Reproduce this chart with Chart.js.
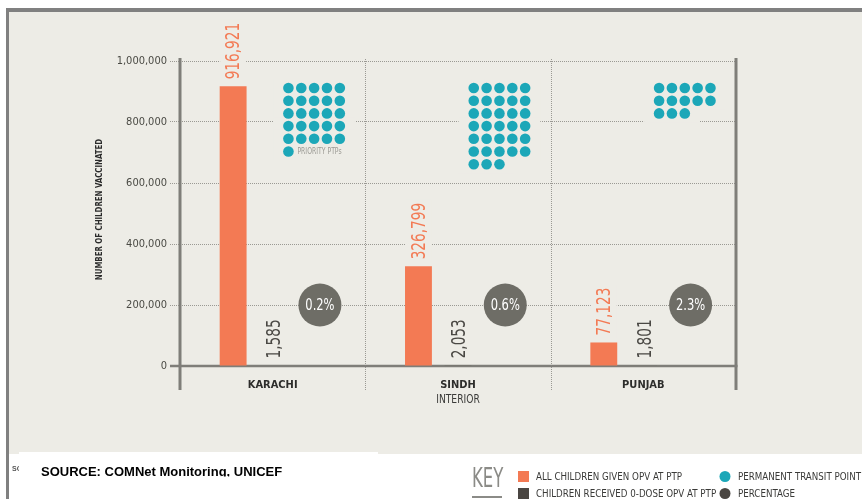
<!DOCTYPE html>
<html><head><meta charset="utf-8">
<script src="https://cdn.jsdelivr.net/npm/chart.js@4.4.0/dist/chart.umd.min.js"></script>
<style>html,body{margin:0;padding:0;background:#fff}#wrap{width:862px;height:499px;position:relative}</style>
</head><body><div id="wrap"><canvas id="c" width="862" height="499"></canvas></div>
<script>
// ---- data ----
const categories = ['KARACHI', 'SINDH', 'PUNJAB'];
const categorySub = ['', 'INTERIOR', ''];
const allChildren = [916921, 326799, 77123];
const zeroDose = [1585, 2053, 1801];
const percentages = ['0.2%', '0.6%', '2.3%'];
const ptpCounts = [26, 33, 13];
const yTicks = [0, 200000, 400000, 600000, 800000, 1000000];
const seriesNames = ['ALL CHILDREN GIVEN OPV AT PTP', 'CHILDREN RECEIVED 0-DOSE OPV AT PTP', 'PERMANENT TRANSIT POINT', 'PERCENTAGE'];

// ---- style ----
const BG = '#EDECE6';
const ORANGE = '#F37A54';
const DARK = '#4A4642';
const TEAL = '#1CA7B8';
const CIRCLE = '#6E6D66';
const GRID = '#9a9993';
const AXIS = '#7f7e79';
const NARROW = '"Liberation Sans Narrow","DejaVu Sans Condensed","Roboto Condensed",sans-serif';
const fmt = v => Number(v).toLocaleString('en-US');

// draw text, optionally rotated, squeezed along its own direction by sx
function txt(ctx, s, x, y, o) {
  ctx.save();
  ctx.translate(x, y);
  if (o.rot) ctx.rotate(o.rot);
  ctx.scale(o.sx || 1, 1);
  ctx.font = o.font; ctx.fillStyle = o.color;
  ctx.textAlign = o.align || 'left'; ctx.textBaseline = o.base || 'middle';
  ctx.fillText(s, 0, o.dy || 0);
  ctx.restore();
}

const VAL_FONT = '20px ' + NARROW, VAL_SX = 0.76;

const decor = {
  id: 'decor',
  beforeDraw(chart) {
    const ctx = chart.ctx;
    ctx.save();
    ctx.fillStyle = '#fff'; ctx.fillRect(0, 0, 862, 499);
    ctx.fillStyle = BG; ctx.fillRect(9, 11, 853, 443);
    ctx.fillStyle = '#808080';
    ctx.fillRect(6, 8, 856, 4);
    ctx.fillRect(6, 8, 3, 491);
    ctx.restore();
    const a = chart.chartArea;
    txt(ctx, 'NUMBER OF CHILDREN VACCINATED', 100, (a.top + a.bottom) / 2 - 4,
      { rot: -Math.PI / 2, sx: 0.82, font: 'bold 9.5px ' + NARROW, color: '#2b2b2b', align: 'center' });
  },
  beforeDatasetsDraw(chart) {
    const ctx = chart.ctx, a = chart.chartArea, xs = chart.scales.x, ys = chart.scales.y;
    const w = xs.getPixelForValue(1) - xs.getPixelForValue(0);
    ctx.save();
    // masks behind dots
    ctx.fillStyle = BG;
    ptpCounts.forEach((n, i) => {
      dotPositions(chart, i, n).forEach(p => ctx.fillRect(p.x - 15, p.y - 9, 30, 18));
    });
    // masks behind orange labels
    ctx.font = VAL_FONT;
    const m0 = chart.getDatasetMeta(0);
    allChildren.forEach((v, i) => {
      const el = m0.data[i];
      const tw = ctx.measureText(fmt(v)).width * VAL_SX;
      ctx.fillRect(el.x - 13, el.y - 7 - tw - 3, 26, tw + 6);
    });
    // dividers
    ctx.strokeStyle = GRID; ctx.lineWidth = 1; ctx.setLineDash([1, 1]);
    for (let i = 1; i < categories.length; i++) {
      const x = Math.round(xs.getPixelForValue(i) - w / 2) + 0.5;
      ctx.beginPath(); ctx.moveTo(x, a.top - 2); ctx.lineTo(x, a.bottom + 24); ctx.stroke();
    }
    ctx.setLineDash([]);
    // axes frame
    ctx.strokeStyle = AXIS; ctx.lineWidth = 3;
    ctx.beginPath(); ctx.moveTo(a.left, a.top - 3); ctx.lineTo(a.left, a.bottom + 24); ctx.stroke();
    ctx.beginPath(); ctx.moveTo(a.right, a.top - 3); ctx.lineTo(a.right, a.bottom + 24); ctx.stroke();
    ctx.lineWidth = 2.5;
    const y0 = ys.getPixelForValue(0);
    ctx.beginPath(); ctx.moveTo(a.left - 10, y0); ctx.lineTo(a.right + 1.5, y0); ctx.stroke();
    ctx.restore();
  },
  afterDatasetsDraw(chart) {
    const ctx = chart.ctx, xs = chart.scales.x, ys = chart.scales.y;
    const w = xs.getPixelForValue(1) - xs.getPixelForValue(0);
    const m0 = chart.getDatasetMeta(0), m1 = chart.getDatasetMeta(1);
    const vopt = c => ({ rot: -Math.PI / 2, sx: VAL_SX, font: VAL_FONT, color: c, dy: 1 });
    allChildren.forEach((v, i) => txt(ctx, fmt(v), m0.data[i].x, m0.data[i].y - 7, vopt(ORANGE)));
    zeroDose.forEach((v, i) => txt(ctx, fmt(v), m1.data[i].x + 1, m1.data[i].y - 7, vopt('#4a4844')));
    ctx.save();
    // dots
    ctx.fillStyle = TEAL;
    ptpCounts.forEach((n, i) => {
      const ps = dotPositions(chart, i, n);
      ps.forEach(p => { ctx.beginPath(); ctx.arc(p.x, p.y, 5.3, 0, Math.PI * 2); ctx.fill(); });
      if (i === 0) {
        const last = ps[ps.length - 1];
        txt(ctx, 'PRIORITY PTPs', last.x + 9, last.y + 0.5, { sx: 0.85, font: '8px ' + NARROW, color: '#9a9993' });
      }
    });
    // percentage circles
    const yc = ys.getPixelForValue(200000);
    percentages.forEach((t, i) => {
      const cx = xs.getPixelForValue(i) - w / 2 + 0.755 * w;
      ctx.fillStyle = CIRCLE;
      ctx.beginPath(); ctx.arc(cx, yc, 21.5, 0, Math.PI * 2); ctx.fill();
      txt(ctx, t, cx, yc + 1, { sx: 0.8, font: '16px ' + NARROW, color: '#fff', align: 'center' });
    });
    ctx.restore();
  },
  afterDraw(chart) {
    const ctx = chart.ctx, xs = chart.scales.x;
    categorySub.forEach((s, i) => {
      if (s) txt(ctx, s, xs.getPixelForValue(i), 400, { sx: 0.85, font: '12px ' + NARROW, color: '#3a3a38', align: 'center' });
    });
    ctx.save();
    // bottom white band
    ctx.fillStyle = '#fff';
    ctx.fillRect(9, 454, 853, 45);
    ctx.fillRect(19, 452, 359, 47);
    // faint hidden source
    ctx.save();
    ctx.beginPath(); ctx.rect(9, 455, 10, 44); ctx.clip();
    ctx.font = 'bold 7px "Liberation Sans",Arial,sans-serif'; ctx.fillStyle = '#555';
    ctx.textAlign = 'left'; ctx.textBaseline = 'alphabetic';
    ctx.fillText('SOURCE', 12, 471);
    ctx.restore();
    // source
    ctx.save();
    ctx.beginPath(); ctx.rect(19, 452, 359, 24.5); ctx.clip();
    ctx.font = 'bold 13px "Liberation Sans",Arial,sans-serif'; ctx.fillStyle = '#000';
    ctx.textAlign = 'left'; ctx.textBaseline = 'alphabetic';
    ctx.fillText('SOURCE: COMNet Monitoring, UNICEF', 41, 476);
    ctx.restore();
    // KEY
    txt(ctx, 'KEY', 472, 487, { sx: 0.68, font: '27px ' + NARROW, color: '#8b8b87', base: 'alphabetic' });
    ctx.fillStyle = '#8b8b87'; ctx.fillRect(472, 496, 30, 2);
    // legend items
    ctx.fillStyle = ORANGE; ctx.fillRect(518, 471, 11, 11);
    ctx.fillStyle = DARK; ctx.fillRect(518, 488, 11, 11);
    ctx.fillStyle = TEAL; ctx.beginPath(); ctx.arc(725, 476.5, 5.5, 0, Math.PI * 2); ctx.fill();
    ctx.fillStyle = DARK; ctx.beginPath(); ctx.arc(725, 493.5, 5.5, 0, Math.PI * 2); ctx.fill();
    const lo = { sx: 0.88, font: '11px ' + NARROW, color: '#3a3a38' };
    txt(ctx, seriesNames[0], 536, 477, lo);
    txt(ctx, seriesNames[1], 536, 494, lo);
    txt(ctx, seriesNames[2], 738, 477, lo);
    txt(ctx, seriesNames[3], 738, 494, lo);
    ctx.restore();
  }
};

function dotPositions(chart, i, n) {
  const xs = chart.scales.x, a = chart.chartArea;
  const w = xs.getPixelForValue(1) - xs.getPixelForValue(0);
  const x0 = xs.getPixelForValue(i) - w / 2 + 0.585 * w;
  const y0 = a.top + 27;
  const out = [];
  for (let k = 0; k < n; k++) {
    out.push({ x: x0 + (k % 5) * 12.85, y: y0 + Math.floor(k / 5) * 12.7 });
  }
  return out;
}

new Chart(document.getElementById('c'), {
  type: 'bar',
  data: {
    labels: categories,
    datasets: [
      { label: seriesNames[0], data: allChildren, backgroundColor: ORANGE, categoryPercentage: 0.64, barPercentage: 0.68 },
      { label: seriesNames[1], data: zeroDose, backgroundColor: DARK, categoryPercentage: 0.64, barPercentage: 0.68 },
      { label: seriesNames[3], data: [null, null, null], backgroundColor: 'rgba(0,0,0,0)', categoryPercentage: 0.64, barPercentage: 0.68 }
    ]
  },
  options: {
    responsive: false,
    animation: false,
    devicePixelRatio: 1,
    layout: { padding: { left: 100, top: 61, right: 126, bottom: 93 } },
    plugins: { legend: { display: false }, tooltip: { enabled: false } },
    scales: {
      x: {
        grid: { display: false, drawTicks: false },
        border: { display: false },
        ticks: { font: { family: NARROW, size: 11, weight: 'bold' }, color: '#2d2d2b', padding: 13 },
        afterFit(s) { s.height = 40; }
      },
      y: {
        min: 0, max: 1000000,
        afterBuildTicks(s) { s.ticks = yTicks.map(v => ({ value: v })); },
        ticks: { callback: v => fmt(v), font: { family: NARROW, size: 11 }, color: '#4a4a44', padding: 3 },
        grid: { color: GRID, lineWidth: 1, tickLength: 10, tickColor: GRID, tickBorderDash: [1, 1] },
        border: { display: false, dash: [1, 1] },
        afterFit(s) { s.width = 80; }
      }
    }
  },
  plugins: [decor]
});
</script>
</body></html>
